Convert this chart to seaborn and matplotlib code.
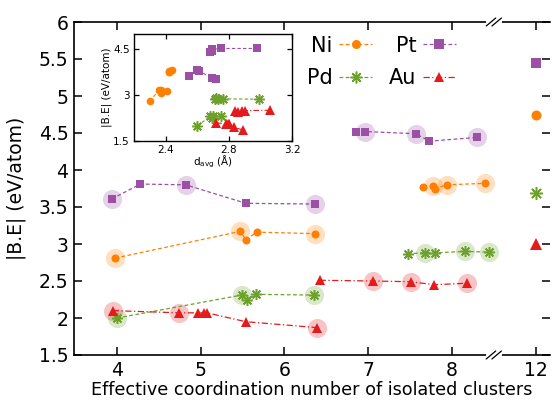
import numpy as np
import matplotlib
matplotlib.use("Agg")
import matplotlib.pyplot as plt
import seaborn as sns
from matplotlib.lines import Line2D

# ── Data ────────────────────────────────────────────────────
# effective coordination number (x) and |B.E| (eV/atom) per cluster series
ni_cn_a = [3.98, 5.47, 5.54, 5.67, 6.37]
ni_be_a = [2.81, 3.17, 3.06, 3.16, 3.14]
ni_cn_b = [7.66, 7.77, 7.80, 7.94, 8.40]
ni_be_b = [3.77, 3.79, 3.75, 3.80, 3.82]
ni_hl_a = [0, 1, 4]
ni_hl_b = [1, 3, 4]

pt_cn_a = [3.94, 4.28, 4.82, 5.54, 6.36]
pt_be_a = [3.61, 3.81, 3.80, 3.55, 3.54]
pt_cn_b = [6.85, 6.96, 7.57, 7.73, 8.30]
pt_be_b = [4.52, 4.52, 4.49, 4.39, 4.44]
pt_hl_a = [0, 2, 4]
pt_hl_b = [1, 2, 4]

pd_cn_a = [4.00, 5.49, 5.55, 5.66, 6.35]
pd_be_a = [2.00, 2.31, 2.25, 2.32, 2.31]
pd_cn_b = [7.47, 7.68, 7.80, 8.16, 8.44]
pd_be_b = [2.87, 2.88, 2.88, 2.90, 2.89]
pd_hl_a = [0, 1, 4]
pd_hl_b = [1, 3, 4]

au_cn_a = [3.95, 4.74, 4.97, 5.04, 5.07, 5.54, 6.39]
au_be_a = [2.10, 2.07, 2.07, 2.07, 2.07, 1.95, 1.87]
au_cn_b = [6.42, 7.06, 7.51, 7.79, 8.18]
au_be_b = [2.51, 2.50, 2.49, 2.45, 2.47]
au_hl_a = [0, 1, 6]
au_hl_b = [1, 2, 4]

# bulk (CN = 12) values
bulk_cn = 12
bulk_be = {"Ni": 4.74, "Pt": 5.44, "Pd": 3.69, "Au": 3.00}

# inset: average bond length d_avg (Å) for the same clusters
ni_d_a = [2.30, 2.36, 2.37, 2.37, 2.41]
ni_d_b = [2.42, 2.42, 2.42, 2.43, 2.44]
pt_d_a = [2.55, 2.60, 2.61, 2.69, 2.72]
pt_d_b = [2.98, 2.75, 2.69, 2.68, 2.69]
pd_d_a = [2.60, 2.68, 2.69, 2.70, 2.75]
pd_d_b = [2.99, 2.76, 2.73, 2.72, 2.71]
au_d_a = [2.72, 2.78, 2.79, 2.80, 2.80, 2.83, 2.89]
au_d_b = [3.06, 2.90, 2.88, 2.86, 2.84]

x_ticks = [4, 5, 6, 7, 8, 12]

# ── Style ───────────────────────────────────────────────────
sns.set_style("ticks")
plt.rcParams["font.family"] = ["DejaVu Sans"]
plt.rcParams.update({
    "xtick.direction": "in", "ytick.direction": "in",
    "xtick.color": "black", "ytick.color": "black",
    "axes.edgecolor": "black", "axes.labelcolor": "black",
    "text.color": "black",
})

colors = {"Ni": "#ff8000", "Pt": "#9b4fa5", "Pd": "#6ca22c", "Au": "#e41a1c"}
markers = {"Ni": "o", "Pt": "s", "Pd": (8, 2, 0), "Au": "^"}
styles = {"Ni": (0, (3, 2)), "Pt": (0, (3, 2)), "Pd": (0, (3, 2)), "Au": (0, (5, 2, 1, 2))}

series = {
    "Ni": [(ni_cn_a, ni_be_a, ni_hl_a, ni_d_a), (ni_cn_b, ni_be_b, ni_hl_b, ni_d_b)],
    "Pt": [(pt_cn_a, pt_be_a, pt_hl_a, pt_d_a), (pt_cn_b, pt_be_b, pt_hl_b, pt_d_b)],
    "Pd": [(pd_cn_a, pd_be_a, pd_hl_a, pd_d_a), (pd_cn_b, pd_be_b, pd_hl_b, pd_d_b)],
    "Au": [(au_cn_a, au_be_a, au_hl_a, au_d_a), (au_cn_b, au_be_b, au_hl_b, au_d_b)],
}

# broken x axis: CN 12 drawn one unit after 8
BREAK_AT = 8.5
def xpos(cn):
    return [c if c <= BREAK_AT else 9 for c in np.atleast_1d(cn)]


def mkw(el, ms):
    kw = dict(marker=markers[el], markersize=ms, color=colors[el],
              markerfacecolor=colors[el], markeredgecolor=colors[el])
    if el == "Pd":
        kw["markeredgewidth"] = 1.1
        kw["markersize"] = ms + 2
    elif el == "Au":
        kw["markeredgewidth"] = 0
        kw["markersize"] = ms + 1
    else:
        kw["markeredgewidth"] = 0
    return kw


fig = plt.figure(figsize=(5.52, 4.01), dpi=100)
AX_W = 476
ax = fig.add_axes([74 / 552, 46 / 401, AX_W / 552, 333 / 401])

for el, segs in series.items():
    for cn, be, hl, _ in segs:
        # translucent halo behind selected clusters
        sns.scatterplot(x=[cn[i] for i in hl], y=[be[i] for i in hl], ax=ax,
                        s=190, color=colors[el], alpha=0.25, linewidth=0,
                        zorder=1, legend=False)
        sns.lineplot(x=cn, y=be, ax=ax, sort=False, estimator=None,
                     linestyle=styles[el], linewidth=0.9, zorder=3,
                     legend=False, **mkw(el, 5.8))
    sns.lineplot(x=xpos(bulk_cn), y=[bulk_be[el]], ax=ax, estimator=None,
                 linestyle="none", zorder=3, legend=False, **mkw(el, 7.2))

ax.set_xlim(3.487, 3.487 + AX_W / 83.75)
ax.set_ylim(1.5, 6)
ax.set_xticks(xpos(x_ticks))
ax.set_xticklabels([str(t) for t in x_ticks])
ax.set_yticks(np.arange(1.5, 6.01, 0.5))
ax.set_yticklabels(["1.5", "2", "2.5", "3", "3.5", "4", "4.5", "5", "5.5", "6"])
ax.tick_params(axis="both", which="major", direction="in", labelsize=13.5,
               length=6, width=1.1, color="black",
               top=True, right=True, bottom=True, left=True, pad=4)
ax.spines["right"].set_visible(False)
for s in ["left", "bottom", "top"]:
    ax.spines[s].set_linewidth(1.2)
ax.set_xlabel("Effective coordination number of isolated clusters", fontsize=12.7, labelpad=1)
ax.set_ylabel("|B.E| (eV/atom)", fontsize=13.5, labelpad=9)

# break marks on the x axis
bx = (BREAK_AT - ax.get_xlim()[0]) / (ax.get_xlim()[1] - ax.get_xlim()[0])
for yb in (0, 1):
    ax.plot([bx - 0.012, bx + 0.012], [yb, yb], transform=ax.transAxes,
            color="white", lw=3, clip_on=False, zorder=5)
    for off in (-0.006, 0.006):
        ax.plot([bx + off - 0.01, bx + off + 0.01], [yb - 0.012, yb + 0.012],
                transform=ax.transAxes, color="black", lw=0.9,
                clip_on=False, zorder=6)

# legend (text left of sample, two columns)
handles = []
for el in ["Ni", "Pd", "Pt", "Au"]:
    h = Line2D([], [], linestyle=styles[el], linewidth=0.9, **mkw(el, 6.5))
    handles.append(h)
leg = ax.legend(handles, ["Ni", "Pd", "Pt", "Au"], ncol=2, markerfirst=False,
                frameon=False, fontsize=15, loc="upper left",
                bbox_to_anchor=(0.45, 1.015), handlelength=1.6,
                handletextpad=0.3, columnspacing=0.8, labelspacing=0.6)

# ── Inset: B.E vs average bond length ───────────────────────
ins = fig.add_axes([134 / 552, (401 - 141.3) / 401, 158.3 / 552, 107.6 / 401])
for el, segs in series.items():
    for _, be, _, d in segs:
        sns.lineplot(x=d, y=be, ax=ins, sort=False, estimator=None,
                     linestyle=styles[el], linewidth=0.8, legend=False,
                     **mkw(el, 5.5))
ins.set_xlim(2.2, 3.2)
ins.set_ylim(1.5, 5.0)
ins.set_xticks([2.4, 2.8, 3.2])
ins.set_xticklabels(["2.4", "2.8", "3.2"])
ins.set_yticks([1.5, 3, 4.5])
ins.set_yticklabels(["1.5", "3", "4.5"])
ins.tick_params(axis="both", which="major", direction="in", labelsize=7.5,
                length=3.5, width=0.9, color="black",
                top=True, right=True, bottom=True, left=True, pad=3)
for s in ins.spines.values():
    s.set_linewidth(1.0)
ins.set_xlabel("d$_{\\rm avg}$ (Å)", fontsize=7.5, labelpad=-1)
ins.set_ylabel("|B.E| (eV/atom)", fontsize=7.5, labelpad=1)

fig.savefig("out.png", dpi=100)
